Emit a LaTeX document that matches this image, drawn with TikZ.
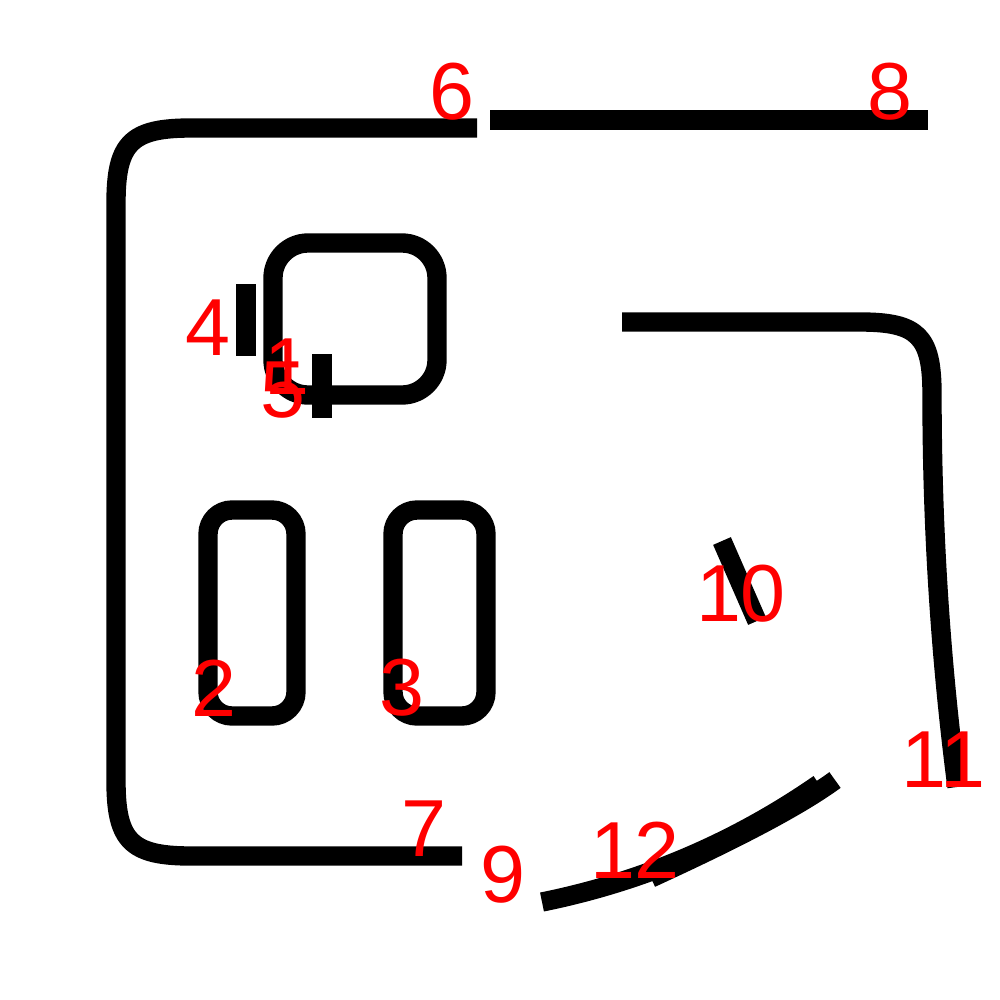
\documentclass[tikz,border=0pt]{standalone}
\usepackage{fontspec}
\setmainfont{Liberation Sans}
\usetikzlibrary{calc}

\tikzset{
  wall/.style={black, line width=5.5pt},
  num/.style={text=red, font=\fontsize{23}{23}\selectfont, inner sep=0pt}
}

\begin{document}
\begin{tikzpicture}[x=0.01cm, y=-0.01cm]
\useasboundingbox (0,0) rectangle (1000,1000);
\coordinate(T) at (477,128);
\coordinate(B) at (462,856);
\draw[wall] (T) -- (191,128) .. controls (131,128) and (116,143) .. (116,203)
  -- (116,781) .. controls (116,841) and (131,856) .. (191,856) -- (B);
\draw[wall] (490,120) -- (928,120);
\draw[wall, rounded corners=0.35cm] (273,243) rectangle (437,395);
\draw[wall] (246,284) -- (246,356);
\draw[wall] (322,354) -- (322,418);
\draw[wall, rounded corners=0.24cm] (208,510) rectangle (296,716);
\draw[wall, rounded corners=0.24cm] (393,510) rectangle (486,716);
\draw[wall] (622,322) -- (860,322) .. controls (918,322) and (932,336) .. (932,394)
  .. controls (932,525) and (940,656) .. (957,787);
\draw[wall] (722,541) -- (757,621);
\draw[wall] (542,902) .. controls (641,882) and (734,843) .. (819,784);
\draw[wall] (651,878) .. controls (736,839) and (798,807) .. (835,780);
\node[num] (n1) at (287,367) {1};
\node[num] (n2) at (214,688) {2};
\node[num] (n3) at (402,688) {3};
\node[num] (n4) at (208,328) {4};
\node[num] (n5) at (283,390) {5};
\node[num] (n6) at (452,92) {6};
\node[num] (n7) at (424,829) {7};
\node[num] (n8) at (890,92) {8};
\node[num] (n9) at (503,875) {9};
\node[num] (n10) at (741,594) {10};
\node[num] (n11) at (943,760) {11};
\node[num] (n12) at (635,850) {12};
\end{tikzpicture}
\end{document}
